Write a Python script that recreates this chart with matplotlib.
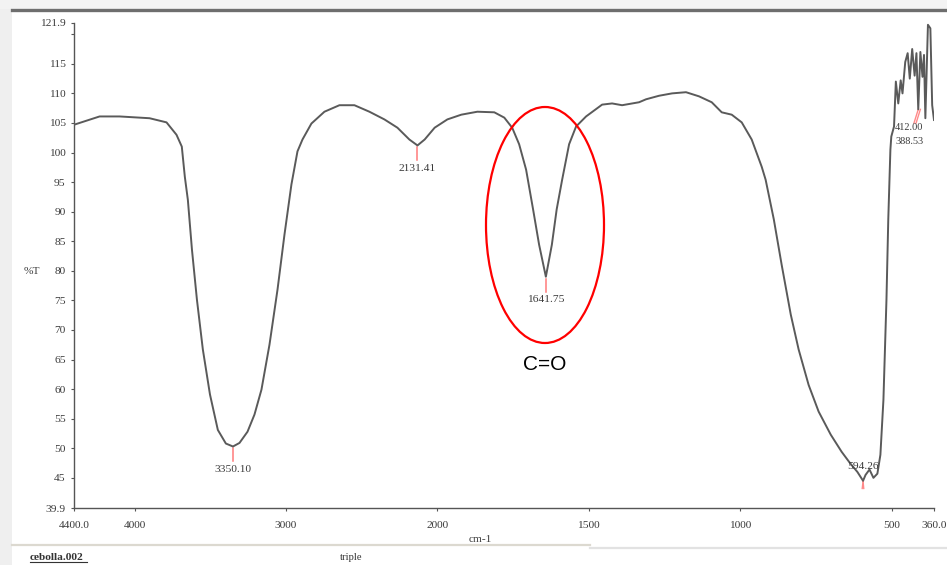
import numpy as np
import matplotlib
matplotlib.use("Agg")
import matplotlib.pyplot as plt
from matplotlib.patches import Ellipse, Rectangle
from matplotlib.lines import Line2D

# FT-IR spectrum: wavenumber (cm-1) and transmittance (%T)
wavenumber = [4400, 4231, 4099, 3901, 3789, 3723, 3688, 3668, 3648, 3621, 3588,
              3549, 3502, 3450, 3397, 3350.10, 3307, 3254, 3208, 3162, 3109, 3056,
              3010, 2964, 2924, 2891, 2832, 2746, 2647, 2548, 2449, 2350, 2264,
              2185, 2131.41, 2084, 2018, 1967, 1921, 1868, 1812, 1779, 1753, 1730,
              1707, 1684, 1664, 1641.75, 1622, 1606, 1588, 1565, 1542, 1509, 1456,
              1423, 1390, 1334, 1311, 1268, 1225, 1179, 1136, 1094, 1061, 1028,
              995, 962, 929, 916, 889, 863, 833, 807, 774, 741, 701, 665, 636,
              613, 603, 594.26, 586, 573, 560, 547, 537, 527, 517, 511, 504, 501,
              492, 486, 478, 470, 464, 455, 447, 440, 432, 424, 418, 412.00, 405,
              398, 393, 388.53, 380, 372, 366, 360]
transmittance = [104.7, 106.1, 106.1, 105.8, 105.1, 103.0, 101.0, 95.9, 92.0, 83.6,
                 75.1, 66.7, 59.1, 53.1, 50.8, 50.3, 50.9, 52.8, 55.7, 59.9, 67.5,
                 76.8, 86.1, 94.6, 100.2, 102.2, 104.9, 106.9, 108.0, 108.0, 106.9,
                 105.6, 104.2, 102.2, 101.2, 102.2, 104.2, 105.6, 106.4, 106.9, 106.8,
                 105.9, 104.2, 101.4, 97.1, 90.4, 84.4, 79.0, 84.4, 90.4, 95.4, 101.4,
                 104.4, 106.1, 108.1, 108.3, 108.0, 108.5, 109.0, 109.6, 110.0, 110.2,
                 109.5, 108.5, 106.8, 106.4, 105.1, 102.2, 97.6, 95.4, 88.7, 81.0,
                 72.6, 66.7, 60.7, 56.2, 52.3, 49.4, 47.4, 46.0, 45.2, 44.5, 45.5,
                 46.4, 45.0, 45.7, 48.9, 58.2, 75.1, 88.7, 100.5, 102.7, 104.4, 112.0,
                 108.3, 112.2, 110.0, 115.3, 116.8, 112.5, 117.5, 113.0, 116.8, 107.3,
                 117.0, 112.8, 116.5, 105.8, 121.6, 121.0, 108.0, 105.5]

# Labelled band minima (wavenumber, %T)
peak_pos = [3350.10, 2131.41, 1641.75]
peak_val = [50.3, 101.2, 79.0]
peak_text = ["3350.10", "2131.41", "1641.75"]

x_ticks = [4400, 4000, 3000, 2000, 1500, 1000, 500, 360]
x_ticklabels = ["4400.0", "4000", "3000", "2000", "1500", "1000", "500", "360.0"]
y_ticks = [39.9, 45, 50, 55, 60, 65, 70, 75, 80, 85, 90, 95, 100, 105, 110, 115, 120, 121.9]
y_ticklabels = ["39.9", "45", "50", "55", "60", "65", "70", "75", "80", "85", "90",
                "95", "100", "105", "110", "115", "", "121.9"]

W, H = 947, 565
fig = plt.figure(figsize=(W / 100, H / 100), dpi=100)
fig.patch.set_facecolor("white")

serif = "Liberation Serif"
txt_col = "#3a3a3a"
ax_col = "#555555"
fs = 8.2

# window frame decorations
fig.add_artist(Rectangle((0, 0), 12 / W, 1, transform=fig.transFigure,
                         facecolor="#efefef", edgecolor="none", zorder=0))
fig.add_artist(Rectangle((0, 1 - 9 / H), 1, 9 / H, transform=fig.transFigure,
                         facecolor="#f3f3f3", edgecolor="none", zorder=0))
fig.add_artist(Line2D([12 / W, 1], [1 - 10 / H, 1 - 10 / H], transform=fig.transFigure,
                      color="#6e6e6e", lw=2.4))
fig.add_artist(Line2D([12 / W, 590 / W], [1 - 545 / H, 1 - 545 / H], transform=fig.transFigure,
                      color="#dcd9d0", lw=1.6))
fig.add_artist(Line2D([590 / W, 1], [1 - 548 / H, 1 - 548 / H], transform=fig.transFigure,
                      color="#e2e2e2", lw=1.6))

ax = fig.add_axes([74 / W, 1 - 508 / H, (934 - 74) / W, (508 - 23) / H])


def fwd(x):
    x = np.asarray(x, dtype=float)
    return np.where(x >= 2000, x, 2 * x - 2000)


def inv(u):
    u = np.asarray(u, dtype=float)
    return np.where(u >= 2000, u, (u + 2000) / 2)


ax.set_xscale("function", functions=(fwd, inv))
ax.set_xlim(4400, 360)
ax.set_ylim(39.9, 121.9)

ax.plot(wavenumber, transmittance, color="#5a5a5a", lw=1.4, zorder=3)

for xp, yp, t in zip(peak_pos, peak_val, peak_text):
    ax.plot([xp, xp], [yp - 0.3, yp - 2.5], color="#ff7b7b", lw=1.1, zorder=2)
    ax.text(xp, yp - 3.9, t, ha="center", va="center", fontsize=fs,
            family=serif, color=txt_col)

# low-wavenumber band markers
ax.plot([594.26, 592], [44.4, 43.2], color="#ff8a8a", lw=1.0)
ax.plot([594.26, 597], [44.4, 43.2], color="#ff8a8a", lw=1.0)
ax.text(594.26, 47.0, "594.26", ha="center", va="center", fontsize=fs,
        family=serif, color=txt_col)
ax.plot([412.00, 426], [107.3, 105.0], color="#ff8a8a", lw=1.0)
ax.plot([405, 419], [107.3, 105.0], color="#ff8a8a", lw=1.0)
ax.text(488, 104.2, "412.00", ha="left", va="center", fontsize=7.4,
        family=serif, color=txt_col)
ax.text(488, 101.8, "388.53", ha="left", va="center", fontsize=7.4,
        family=serif, color=txt_col)

for s in ["top", "right"]:
    ax.spines[s].set_visible(False)
for s in ["left", "bottom"]:
    ax.spines[s].set_color(ax_col)
    ax.spines[s].set_linewidth(1.0)

ax.set_xticks(x_ticks)
ax.set_xticklabels(x_ticklabels)
ax.set_yticks(y_ticks)
ax.set_yticklabels(y_ticklabels)
ax.xaxis.set_minor_locator(matplotlib.ticker.NullLocator())
ax.tick_params(axis="both", direction="out", length=2, width=0.8, colors=ax_col,
               labelcolor=txt_col, labelsize=fs)
ax.tick_params(axis="x", pad=7)
ax.tick_params(axis="y", pad=4)
for lab in ax.get_xticklabels() + ax.get_yticklabels():
    lab.set_family(serif)

fig.text(480 / W, 1 - 540 / H, "cm-1", ha="center", va="center", fontsize=fs,
         family=serif, color=txt_col)
fig.text(32 / W, 1 - 272 / H, "%T", ha="center", va="center", fontsize=fs,
         family=serif, color=txt_col)
fig.text(30 / W, 1 - 557 / H, "cebolla.002", ha="left", va="center", fontsize=8.2,
         family=serif, color="#333333", weight="bold")
fig.add_artist(Line2D([30 / W, 87 / W], [1 - 562 / H, 1 - 562 / H], transform=fig.transFigure,
                      color="#333333", lw=0.8))
fig.text(340 / W, 1 - 557 / H, "triple", ha="left", va="center", fontsize=7.6,
         family=serif, color="#333333")

# carbonyl band highlight
fig.add_artist(Ellipse((545 / W, 1 - 225 / H), 118 / W, 236 / H, transform=fig.transFigure,
                       facecolor="none", edgecolor="#ff0000", lw=1.6, zorder=5))
fig.text(545 / W, 1 - 365 / H, "C=O", ha="center", va="center", fontsize=15,
         family="Liberation Sans", color="black")

fig.savefig("out.png", dpi=100)
